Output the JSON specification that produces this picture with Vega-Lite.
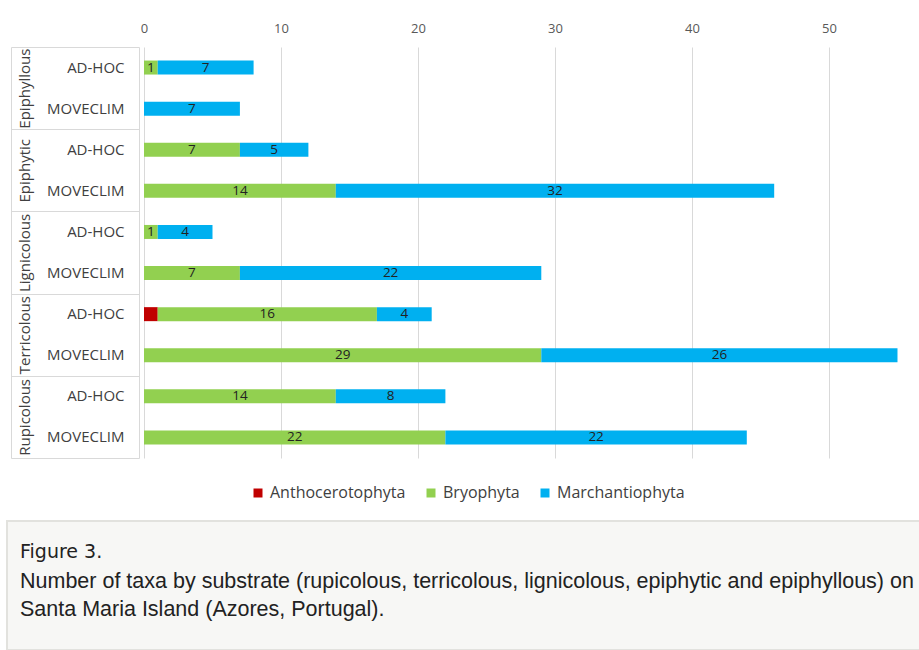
{
  "$schema": "https://vega.github.io/schema/vega-lite/v6.json",
  "padding": {"left": 6, "top": 22, "right": 0, "bottom": 0},
  "background": "white",
  "config": {"font": "Open Sans", "view": {"stroke": null}},
  "spacing": 61,
  "vconcat": [
    {
      "data": {"values": [
        {"substrate": "Epiphyllous", "row": "Epiphyllous|AD-HOC", "taxon": "Bryophyta", "n": 1},
        {"substrate": "Epiphyllous", "row": "Epiphyllous|AD-HOC", "taxon": "Marchantiophyta", "n": 7},
        {"substrate": "Epiphyllous", "row": "Epiphyllous|MOVECLIM", "taxon": "Marchantiophyta", "n": 7},
        {"substrate": "Epiphytic", "row": "Epiphytic|AD-HOC", "taxon": "Bryophyta", "n": 7},
        {"substrate": "Epiphytic", "row": "Epiphytic|AD-HOC", "taxon": "Marchantiophyta", "n": 5},
        {"substrate": "Epiphytic", "row": "Epiphytic|MOVECLIM", "taxon": "Bryophyta", "n": 14},
        {"substrate": "Epiphytic", "row": "Epiphytic|MOVECLIM", "taxon": "Marchantiophyta", "n": 32},
        {"substrate": "Lignicolous", "row": "Lignicolous|AD-HOC", "taxon": "Bryophyta", "n": 1},
        {"substrate": "Lignicolous", "row": "Lignicolous|AD-HOC", "taxon": "Marchantiophyta", "n": 4},
        {"substrate": "Lignicolous", "row": "Lignicolous|MOVECLIM", "taxon": "Bryophyta", "n": 7},
        {"substrate": "Lignicolous", "row": "Lignicolous|MOVECLIM", "taxon": "Marchantiophyta", "n": 22},
        {"substrate": "Terricolous", "row": "Terricolous|AD-HOC", "taxon": "Anthocerotophyta", "n": 1},
        {"substrate": "Terricolous", "row": "Terricolous|AD-HOC", "taxon": "Bryophyta", "n": 16},
        {"substrate": "Terricolous", "row": "Terricolous|AD-HOC", "taxon": "Marchantiophyta", "n": 4},
        {"substrate": "Terricolous", "row": "Terricolous|MOVECLIM", "taxon": "Bryophyta", "n": 29},
        {"substrate": "Terricolous", "row": "Terricolous|MOVECLIM", "taxon": "Marchantiophyta", "n": 26},
        {"substrate": "Rupicolous", "row": "Rupicolous|AD-HOC", "taxon": "Bryophyta", "n": 14},
        {"substrate": "Rupicolous", "row": "Rupicolous|AD-HOC", "taxon": "Marchantiophyta", "n": 8},
        {"substrate": "Rupicolous", "row": "Rupicolous|MOVECLIM", "taxon": "Bryophyta", "n": 22},
        {"substrate": "Rupicolous", "row": "Rupicolous|MOVECLIM", "taxon": "Marchantiophyta", "n": 22}
      ]},
      "spacing": 0,
      "hconcat": [
        {
          "width": 132,
          "height": 411,
          "layer": [
            {
              "mark": {"type": "point", "opacity": 0},
              "encoding": {
                "x": {"field": "n", "type": "quantitative", "axis": null},
                "y": {
                  "field": "row", "type": "nominal",
                  "sort": ["Epiphyllous|AD-HOC", "Epiphyllous|MOVECLIM", "Epiphytic|AD-HOC", "Epiphytic|MOVECLIM", "Lignicolous|AD-HOC", "Lignicolous|MOVECLIM", "Terricolous|AD-HOC", "Terricolous|MOVECLIM", "Rupicolous|AD-HOC", "Rupicolous|MOVECLIM"],
                  "scale": {"type": "band", "paddingInner": 0, "paddingOuter": 0},
                  "axis": {
                    "orient": "left", "offset": -4, "domain": true, "domainColor": "#d9d9d9",
                    "ticks": false, "tickSize": 0, "labelPadding": -113, "labelAlign": "right",
                    "labelFontSize": 15, "labelColor": "#404040", "labelFont": "Open Sans",
                    "labelExpr": "split(datum.label, '|')[1]", "title": null, "grid": false,
                    "minExtent": 0
                  }
                }
              }
            },
            {
              "mark": {"type": "point", "opacity": 0},
              "encoding": {
                "x": {"field": "n", "type": "quantitative", "axis": null},
                "y": {
                  "field": "substrate", "type": "nominal",
                  "sort": ["Epiphyllous", "Epiphytic", "Lignicolous", "Terricolous", "Rupicolous"],
                  "scale": {"type": "band", "paddingInner": 0, "paddingOuter": 0},
                  "axis": {
                    "orient": "left", "offset": -132, "domain": true, "domainColor": "#d9d9d9",
                    "ticks": true, "tickBand": "extent", "tickSize": 128, "tickColor": "#d9d9d9",
                    "labelAngle": -90, "labelAlign": "center", "labelBaseline": "middle", "labelPadding": -13,
                    "labelFontSize": 15, "labelColor": "#404040", "labelFont": "Open Sans",
                    "title": null, "grid": false, "minExtent": 0
                  }
                }
              }
            }
          ],
          "resolve": {"scale": {"y": "independent"}, "axis": {"y": "independent"}}
        },
        {
          "width": 775,
          "height": 411,
          "layer": [
            {
              "mark": {"type": "bar", "size": 14},
              "encoding": {
                "y": {
                  "field": "row", "type": "nominal",
                  "sort": ["Epiphyllous|AD-HOC", "Epiphyllous|MOVECLIM", "Epiphytic|AD-HOC", "Epiphytic|MOVECLIM", "Lignicolous|AD-HOC", "Lignicolous|MOVECLIM", "Terricolous|AD-HOC", "Terricolous|MOVECLIM", "Rupicolous|AD-HOC", "Rupicolous|MOVECLIM"],
                  "scale": {"type": "band", "paddingInner": 0, "paddingOuter": 0},
                  "axis": null
                },
                "x": {
                  "field": "n", "type": "quantitative", "stack": "zero",
                  "scale": {"domain": [0, 56.57], "nice": false, "zero": true},
                  "axis": {
                    "orient": "top", "values": [0, 10, 20, 30, 40, 50], "domain": false, "ticks": false,
                    "labelPadding": 12, "labelFontSize": 13, "labelColor": "#595959", "labelFont": "Open Sans",
                    "labelFlush": false, "gridColor": "#d9d9d9", "title": null
                  }
                },
                "order": {"field": "taxon", "type": "ordinal", "sort": "ascending"},
                "color": {
                  "field": "taxon", "type": "nominal",
                  "scale": {"domain": ["Anthocerotophyta", "Bryophyta", "Marchantiophyta"], "range": ["#c00000", "#92d050", "#00b0f0"]},
                  "legend": {
                    "orient": "none", "legendX": 243, "legendY": 438, "direction": "horizontal", "title": null,
                    "symbolType": "square", "symbolSize": 81, "symbolStrokeWidth": 0,
                    "labelFontSize": 16, "labelColor": "#404040", "labelFont": "Open Sans",
                    "columnPadding": 17, "labelOffset": 4
                  }
                }
              }
            },
            {
              "mark": {"type": "text", "fontSize": 13.5, "color": "#222222", "font": "Open Sans"},
              "encoding": {
                "y": {
                  "field": "row", "type": "nominal",
                  "sort": ["Epiphyllous|AD-HOC", "Epiphyllous|MOVECLIM", "Epiphytic|AD-HOC", "Epiphytic|MOVECLIM", "Lignicolous|AD-HOC", "Lignicolous|MOVECLIM", "Terricolous|AD-HOC", "Terricolous|MOVECLIM", "Rupicolous|AD-HOC", "Rupicolous|MOVECLIM"]
                },
                "x": {"field": "n", "type": "quantitative", "stack": "zero", "bandPosition": 0.5},
                "order": {"field": "taxon", "type": "ordinal", "sort": "ascending"},
                "detail": {"field": "taxon"},
                "text": {
                  "condition": {"test": "datum.taxon === 'Anthocerotophyta'", "value": ""},
                  "field": "n", "type": "quantitative"
                }
              }
            }
          ]
        }
      ]
    },
    {
      "width": 913,
      "height": 129,
      "data": {"values": [{"n": 0}]},
      "mark": {"type": "point", "opacity": 0},
      "encoding": {"x": {"field": "n", "type": "quantitative", "axis": null}},
      "view": {"fill": "#f7f7f5", "stroke": "#e2e2de", "strokeWidth": 2},
      "title": {
        "text": "Figure 3.",
        "subtitle": ["Number of taxa by substrate (rupicolous, terricolous, lignicolous, epiphytic and epiphyllous) on", "Santa Maria Island (Azores, Portugal)."],
        "orient": "top", "anchor": "start", "offset": -99, "dx": 13,
        "font": "DejaVu Sans", "fontSize": 19, "fontWeight": "normal", "color": "#222222",
        "subtitleFont": "Liberation Sans", "subtitleFontSize": 21.5, "subtitleColor": "#222222",
        "subtitleLineHeight": 28, "subtitlePadding": 9
      }
    }
  ]
}
